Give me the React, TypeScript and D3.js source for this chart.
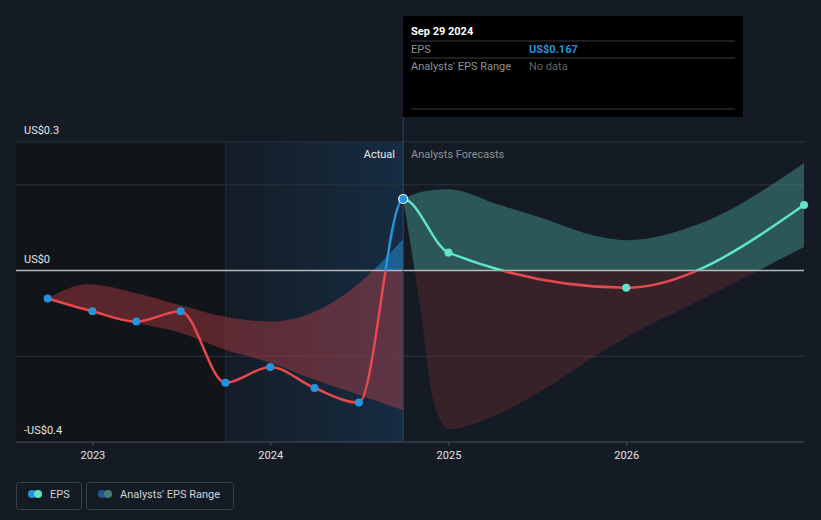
import React from "react";
import * as d3 from "d3";

const actualDates = ["2022-09-30","2022-12-31","2023-03-31","2023-06-30","2023-09-30","2023-12-31","2024-03-31","2024-06-30","2024-09-29"];
const actualEPS = [-0.065,-0.095,-0.119,-0.095,-0.262,-0.225,-0.274,-0.308,0.167];

const forecastDates = ["2024-09-29","2024-12-31","2025-12-31","2026-12-31"];
const forecastEPS = [0.167,0.042,-0.040,0.153];

const pastBandDates = ["2022-09-30","2022-12-22","2023-03-31","2023-06-30","2023-09-30","2023-12-31","2024-03-31","2024-06-30","2024-09-29"];
const pastBandHigh = [-0.065,-0.032,-0.053,-0.081,-0.108,-0.119,-0.096,-0.030,0.074];
const pastBandLow = [-0.065,-0.09,-0.122,-0.145,-0.185,-0.215,-0.255,-0.29,-0.326];

const fcBandDates = ["2024-09-29","2024-11-03","2024-11-30","2024-12-31","2025-04-15","2025-07-01","2025-11-06","2026-01-01","2026-06-01","2026-12-31"];
const fcBandHigh = [0.167,0.183,0.188,0.190,0.153,0.126,0.079,0.071,0.11,0.251];
const fcBandLow = [0.167,-0.085,-0.302,-0.37,-0.333,-0.287,-0.193,-0.155,-0.069,0.055];

const yTicks = [0.3, 0, -0.4];
const yTickLabels = ["US$0.3", "US$0", "-US$0.4"];
const gridValues = [0.3, 0.2, -0.2];
const xTickYears = ["2023", "2024", "2025", "2026"];

const FONT = "Roboto, 'Noto Sans', sans-serif";
const BLUE = "#2394df";
const TEAL = "#5fe3c9";
const RED = "#e5484d";

export default function App() {
  const W = 821, H = 520;
  const left = 16, right = 804, top = 142, bottom = 442;
  const p = d3.timeParse("%Y-%m-%d");
  const x = d3.scaleTime().domain([p("2022-07-27")!, p("2026-12-31")!]).range([left, right]);
  const y = d3.scaleLinear().domain([-0.4, 0.3]).range([bottom, top]);
  const y0 = y(0);
  const hlStart = x(p("2023-09-30")!);
  const nowX = x(p("2024-09-29")!);

  const act = actualDates.map((d, i) => ({ d: p(d)!, v: actualEPS[i] }));
  const fc = forecastDates.map((d, i) => ({ d: p(d)!, v: forecastEPS[i] }));
  const all = [...act, ...fc.slice(1)];
  const pb = pastBandDates.map((d, i) => ({ d: p(d)!, hi: pastBandHigh[i], lo: pastBandLow[i] }));
  const fb = fcBandDates.map((d, i) => ({ d: p(d)!, hi: fcBandHigh[i], lo: fcBandLow[i] }));

  const line = d3.line<{ d: Date; v: number }>().x(o => x(o.d)).y(o => y(o.v)).curve(d3.curveMonotoneX);
  const area = d3.area<{ d: Date; hi: number; lo: number }>().x(o => x(o.d)).y0(o => y(o.lo)).y1(o => y(o.hi)).curve(d3.curveMonotoneX);
  const allPath = line(all) ?? "";

  return (
    <svg width={W} height={H} style={{ position: "absolute", left: 0, top: 0, background: "#151b24" }} fontFamily={FONT}>
      <defs>
        <clipPath id="above"><rect x={0} y={0} width={W} height={y0} /></clipPath>
        <clipPath id="below"><rect x={0} y={y0} width={W} height={H - y0} /></clipPath>
        <clipPath id="past"><rect x={0} y={0} width={nowX} height={H} /></clipPath>
        <clipPath id="future"><rect x={nowX} y={0} width={W - nowX} height={H} /></clipPath>
        <linearGradient id="hl" x1="0" x2="1" y1="0" y2="0">
          <stop offset="0" stopColor="#141c26" />
          <stop offset="1" stopColor="#162c42" />
        </linearGradient>
      </defs>
      <rect x={0} y={0} width={W} height={H} fill="#151b24" />
      <rect x={left} y={top} width={hlStart - left} height={bottom - top} fill="#111419" />
      <rect x={hlStart} y={top} width={nowX - hlStart} height={bottom - top} fill="url(#hl)" />
      <line x1={hlStart} x2={hlStart} y1={top} y2={bottom} stroke="#1d2a38" strokeWidth={1} />

      {gridValues.map(g => (
        <line key={g} x1={left} x2={right} y1={y(g)} y2={y(g)} stroke="#2b323c" strokeWidth={1} />
      ))}

      {/* bands */}
      <path d={area(pb) ?? ""} fill={RED} fillOpacity={0.35} clipPath="url(#below)" />
      <path d={area(pb) ?? ""} fill={BLUE} fillOpacity={0.5} clipPath="url(#above)" />
      <path d={area(fb) ?? ""} fill={RED} fillOpacity={0.17} clipPath="url(#below)" />
      <path d={area(fb) ?? ""} fill={TEAL} fillOpacity={0.3} clipPath="url(#above)" />

      {/* zero line */}
      <line x1={left} x2={right} y1={y0} y2={y0} stroke="#b5b8bc" strokeWidth={1.5} />
      <line x1={left} x2={right} y1={bottom} y2={bottom} stroke="#4a515b" strokeWidth={1} />

      {/* hover line */}
      <line x1={nowX} x2={nowX} y1={117} y2={bottom} stroke="#2a4660" strokeWidth={1} />

      {/* lines */}
      <g clipPath="url(#past)">
        <path d={allPath} fill="none" stroke={RED} strokeWidth={2.5} clipPath="url(#below)" />
        <path d={allPath} fill="none" stroke={BLUE} strokeWidth={2.5} clipPath="url(#above)" />
      </g>
      <g clipPath="url(#future)">
        <path d={allPath} fill="none" stroke={RED} strokeWidth={2.5} clipPath="url(#below)" />
        <path d={allPath} fill="none" stroke={TEAL} strokeWidth={2.5} clipPath="url(#above)" />
      </g>

      {act.slice(0, -1).map((o, i) => (
        <circle key={i} cx={x(o.d)} cy={y(o.v)} r={4} fill={BLUE} />
      ))}
      {fc.slice(1).map((o, i) => (
        <circle key={i} cx={x(o.d)} cy={y(o.v)} r={4} fill={TEAL} />
      ))}
      <circle cx={x(act[act.length - 1].d)} cy={y(act[act.length - 1].v)} r={4.5} fill={BLUE} stroke="#ffffff" strokeWidth={1.2} />

      {/* y labels */}
      {yTicks.map((t, i) => (
        <text key={t} x={24} y={y(t) - 8} fontSize={11} fill="#e2e4e6">{yTickLabels[i]}</text>
      ))}

      {/* x ticks */}
      {xTickYears.map(yr => {
        const xx = x(p(`${yr}-01-01`)!);
        return (
          <g key={yr}>
            <line x1={xx} x2={xx} y1={bottom} y2={bottom + 4} stroke="#4a515b" />
            <text x={xx} y={459} fontSize={11} fill="#e2e4e6" textAnchor="middle">{yr}</text>
          </g>
        );
      })}

      <text x={395} y={158} fontSize={11} fill="#e8e8e8" textAnchor="end">Actual</text>
      <text x={411} y={158} fontSize={11} fill="#8d9196">Analysts Forecasts</text>

      {/* tooltip */}
      <rect x={403} y={16} width={340} height={101} fill="#000000" />
      <text x={411} y={35} fontSize={11} fontWeight="bold" fill="#ffffff">Sep 29 2024</text>
      <line x1={411} x2={735} y1={41} y2={41} stroke="#3a3d42" />
      <text x={411} y={53} fontSize={11} fill="#8d9196">EPS</text>
      <text x={529} y={53} fontSize={11} fontWeight="bold" fill={BLUE}>US$0.167</text>
      <line x1={411} x2={735} y1={58} y2={58} stroke="#3a3d42" />
      <text x={411} y={70} fontSize={11} fill="#8d9196">Analysts' EPS Range</text>
      <text x={529} y={70} fontSize={11} fill="#5f6368">No data</text>
      <line x1={411} x2={735} y1={109} y2={109} stroke="#3a3d42" />

      {/* legend */}
      <rect x={16.5} y={482.5} width={65} height={27} rx={3} fill="none" stroke="#3a414b" />
      <circle cx={32} cy={494} r={4} fill={BLUE} />
      <circle cx={38} cy={494} r={4} fill={TEAL} />
      <text x={50} y={498} fontSize={11} fill="#cfd2d6">EPS</text>
      <rect x={86.5} y={482.5} width={147} height={27} rx={3} fill="none" stroke="#3a414b" />
      <circle cx={102} cy={494} r={4} fill="#1f5a8a" />
      <circle cx={108} cy={494} r={4} fill="#3f7f78" />
      <text x={120} y={498} fontSize={11} fill="#cfd2d6">Analysts' EPS Range</text>
    </svg>
  );
}
